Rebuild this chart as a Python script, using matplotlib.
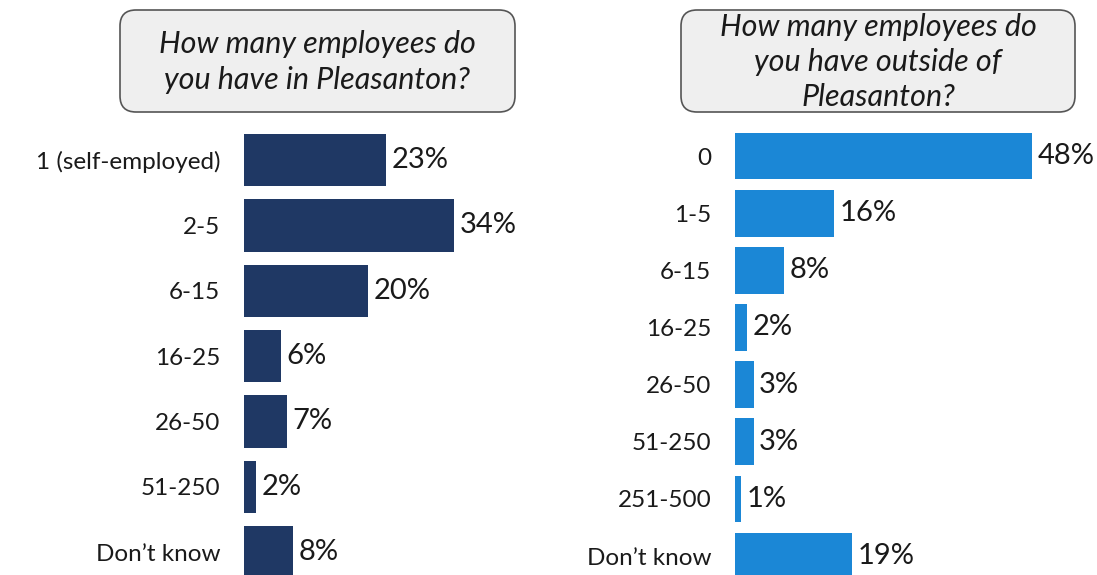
import matplotlib

matplotlib.use("Agg")

from matplotlib import pyplot as plt
from matplotlib.patches import FancyBboxPatch

plt.rcParams["font.family"] = ["Lato", "DejaVu Sans"]

in_labels = ["1 (self-employed)", "2-5", "6-15", "16-25", "26-50", "51-250", "Don\u2019t know"]
in_values = [23, 34, 20, 6, 7, 2, 8]

out_labels = ["0", "1-5", "6-15", "16-25", "26-50", "51-250", "251-500", "Don\u2019t know"]
out_values = [48, 16, 8, 2, 3, 3, 1, 19]

in_title = "How many employees do\nyou have in Pleasanton?"
out_title = "How many employees do\nyou have outside of\nPleasanton?"

NAVY = "#1f3864"
BLUE = "#1b87d6"
TEXT = "#1a1a1a"
W, H = 1097, 575

fig = plt.figure(figsize=(W / 100, H / 100), dpi=100)

# pixel-space layer for the rounded question boxes
bg = fig.add_axes([0, 0, 1, 1], zorder=-1)
bg.set_xlim(0, W)
bg.set_ylim(H, 0)
bg.axis("off")


def question_box(x0, x1, y0, y1, text, spacing):
    box = FancyBboxPatch(
        (x0, y0), x1 - x0, y1 - y0,
        boxstyle="round,pad=0,rounding_size=16",
        facecolor="#efefef", edgecolor="#555555", linewidth=1.2,
    )
    bg.add_patch(box)
    bg.text((x0 + x1) / 2, (y0 + y1) / 2 + 1, text, ha="center", va="center",
            fontsize=22, style="italic", color=TEXT, linespacing=spacing)


question_box(120, 515, 10, 112, in_title, 1.38)
question_box(681, 1075, 10, 112, out_title, 1.3)


def bar_panel(left_px, labels, values, color, height):
    ax = fig.add_axes([left_px / W, -0.0169, 309 / W, 0.7953])
    pos = range(len(labels))
    ax.barh(pos, values, height=height, color=color)
    ax.set_xlim(0, 50)
    ax.set_ylim(len(labels) - 0.5, -0.5)
    ax.set_yticks(list(pos))
    ax.set_yticklabels(labels, fontsize=17.5, color=TEXT)
    ax.tick_params(axis="y", length=0, pad=17)
    ax.set_xticks([])
    for s in ax.spines.values():
        s.set_visible(False)
    for p, v in zip(pos, values):
        ax.annotate(f"{v}%", (v, p), xytext=(4, 0), textcoords="offset points",
                    ha="left", va="center", fontsize=21, color=TEXT)
    return ax


bar_panel(244, in_labels, in_values, NAVY, 0.8)
bar_panel(735, out_labels, out_values, BLUE, 0.82)

fig.savefig("out.png", dpi=100)
